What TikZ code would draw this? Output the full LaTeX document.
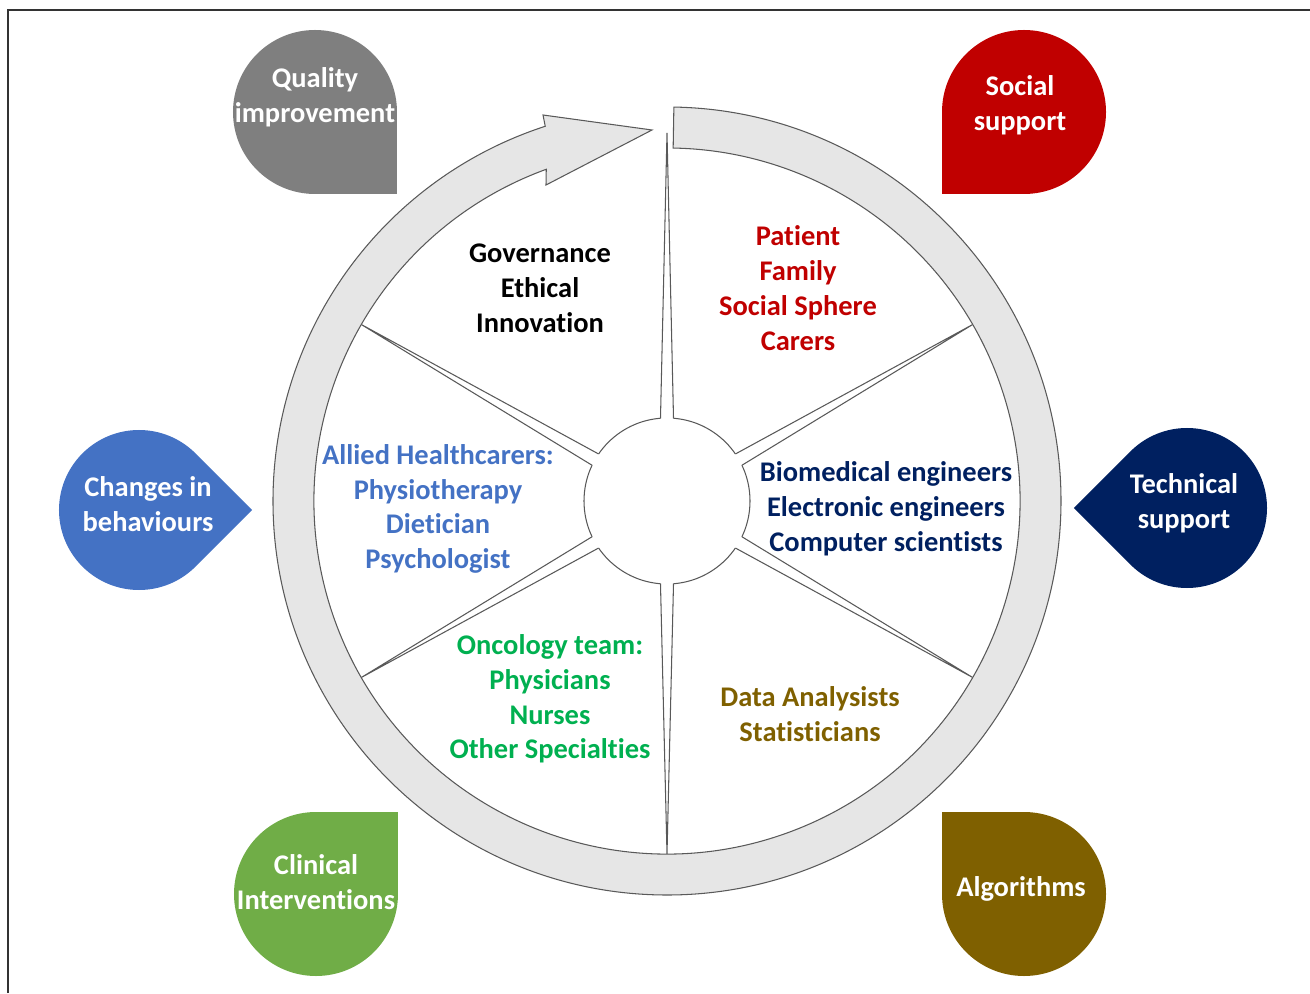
\documentclass[tikz,border=0pt]{standalone}
\usepackage{fontspec}
\setmainfont{Carlito}[Ligatures=CommonOff]
\usepackage{tikz}

\definecolor{qualgray}{HTML}{7F7F7F}
\definecolor{socialred}{HTML}{C00000}
\definecolor{behavblue}{HTML}{4472C4}
\definecolor{technavy}{HTML}{002060}
\definecolor{clingreen}{HTML}{70AD47}
\definecolor{algobrown}{HTML}{7F6000}
\definecolor{oncogreen}{HTML}{00B050}
\definecolor{ringgray}{HTML}{E6E6E6}

\begin{document}
\begin{tikzpicture}[x=0.02cm,y=0.02cm,
	wtext/.style={font=\fontsize{16.2}{19.8}\selectfont\bfseries,align=center,inner sep=0pt},
	dtext/.style={wtext,text=white},
	edge/.style={draw=black!65,line width=0.6pt}]
	\useasboundingbox (-667,-492) rectangle (643,501);
	% frame
	\draw[line width=1pt,black!80] (-659,-492) -- (-659,491) -- (643,491);

	% teardrops round the wheel
	\fill[qualgray] (-352,389) ++(82,0) arc[start angle=0,end angle=270,radius=82] -- ++(82,0) -- cycle;
	\fill[socialred] (357,389) ++(0,-82) arc[start angle=-90,end angle=180,radius=82] -- ++(0,-82) -- cycle;
	\fill[behavblue] (-528,-9) ++(45:80) arc[start angle=45,end angle=315,radius=80] -- ++(56.57,56.57) -- cycle;
	\fill[technavy] (520,-7) ++(225:80) arc[start angle=225,end angle=495,radius=80] -- ++(-56.57,-56.57) -- cycle;
	\fill[clingreen] (-351,-393) ++(0,82) arc[start angle=90,end angle=360,radius=82] -- ++(0,82) -- cycle;
	\fill[algobrown] (357,-393) ++(-82,0) arc[start angle=180,end angle=450,radius=82] -- ++(-82,0) -- cycle;

	\node[dtext] (quality) at (-352,404) {Quality\\improvement};
	\node[dtext] (social) at (353,396) {Social\\support};
	\node[dtext] (changes) at (-519,-3) {Changes in\\behaviours};
	\node[dtext] (technical) at (517,-2) {Technical\\support};
	\node[dtext] (clinical) at (-351,-381) {Clinical\\Interventions};
	\node[dtext] (algorithms) at (354,-388) {Algorithms};

	% hub and spokes
	\draw[edge] (0,0) circle[radius=83];
	\foreach \a/\r in {90/368,30/353,-30/353,-90/353,-150/353,150/353} {
		\fill[white] (\a+4.5:83) -- (\a:\r) -- (\a-4.5:83) -- (\a:70) -- cycle;
		\draw[edge] (\a+4.5:83) -- (\a:\r) -- (\a-4.5:83);
	}

	% ring with arrow head
	\filldraw[edge,fill=ringgray] (89:353) -- (89:394)
		arc[start angle=89,end angle=-252,radius=394]
		-- (-124,386) -- (-15,371) -- (-121,316) -- (-250:353)
		arc[start angle=-250,end angle=89,radius=353] -- cycle;

	% groups inside the wheel
	\node[wtext] (gov) at (-127,213) {Governance\\Ethical\\Innovation};
	\node[wtext,text=socialred] (patient) at (131,213) {Patient\\Family\\Social Sphere\\Carers};
	\node[wtext,text=behavblue] (allied) at (-229,-8) {Allied Healthcarers:\\Physiotherapy\\Dietician\\Psychologist};
	\node[wtext,text=technavy] (biomed) at (219,-8) {Biomedical engineers\\Electronic engineers\\Computer scientists};
	\node[wtext,text=oncogreen] (onco) at (-117,-198) {Oncology team:\\Physicians\\Nurses\\Other Specialties};
	\node[wtext,text=algobrown] (data) at (143,-213) {Data Analysists\\Statisticians};
\end{tikzpicture}
\end{document}
